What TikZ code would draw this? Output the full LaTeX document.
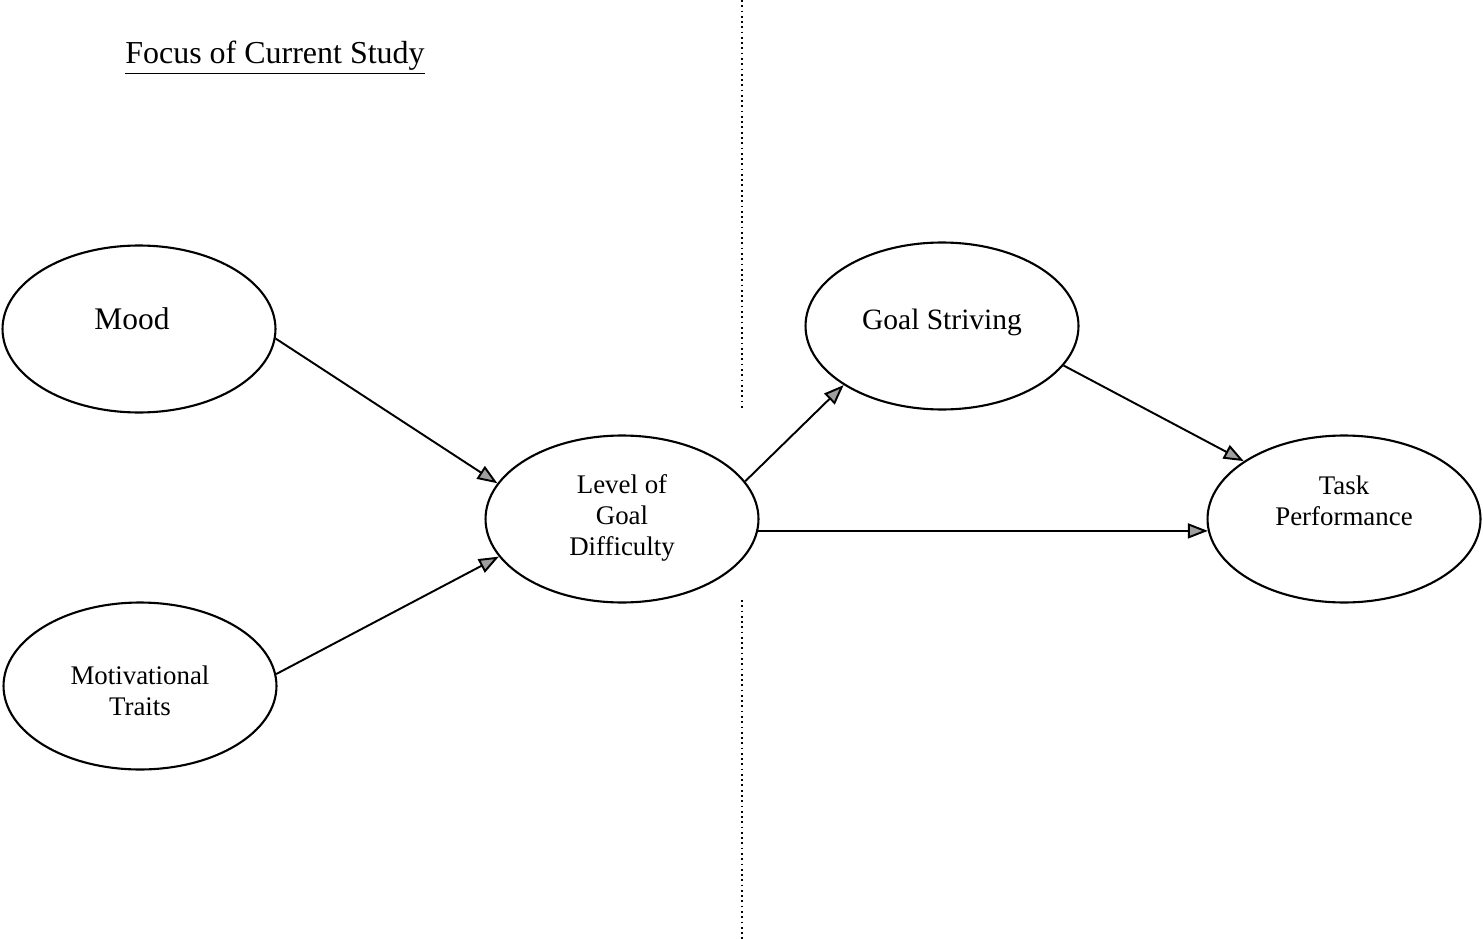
\documentclass[tikz,border=0pt]{standalone}
\usepackage{fontspec}
\setmainfont{Liberation Serif}
\usetikzlibrary{arrows.meta,shapes.geometric}
\newcommand{\lifted}[2]{\raisebox{#1}[0pt][0pt]{\begin{tabular}{@{}c@{}}#2\end{tabular}}}

\begin{document}
\begin{tikzpicture}[x=0.02cm, y=-0.02cm,
      every node/.style={font=\fontsize{15.3}{17.6}\selectfont},
      construct/.style={ellipse, draw, line width=1.2pt, minimum width=5.46cm, minimum height=3.34cm, inner sep=0pt},
      link/.style={line width=1.1pt, -{Triangle[length=0.4cm, width=0.3cm, fill=gray!75]}},
      divider/.style={dotted, line width=1pt}]

      \useasboundingbox (0,0) rectangle (1483,939);

      \node[anchor=base, font=\fontsize{18.2}{22}\selectfont] (title) at (275,64) {\underline{Focus of Current Study}};

      \node[construct] (mood) at (139,329) {\lifted{-0.01cm}{\fontsize{17.9}{21}\selectfont Mood\rule{0.28cm}{0pt}}};
      \node[construct] (traits) at (140,686) {\lifted{-0.29cm}{Motivational\\Traits}};
      \node[construct] (level) at (622,519) {\lifted{-0.11cm}{Level of\\Goal\\Difficulty}};
      \node[construct] (striving) at (942,326) {\lifted{-0.07cm}{\fontsize{16.8}{20}\selectfont Goal Striving}};
      \node[construct] (task) at (1344,519) {\lifted{0.17cm}{Task\\Performance}};

      \draw[link] (mood.-4) -- (level.164);
      \draw[link] (traits.5) -- (level.197);
      \draw[link] (level.17) -- (striving.211);
      \draw[link] (striving.-18) -- (task.150);
      \draw[link] (level.-5) -- (task.185);

      \draw[divider] (742,0) -- (742,408);
      \draw[divider] (742,600) -- (742,939);
\end{tikzpicture}
\end{document}
